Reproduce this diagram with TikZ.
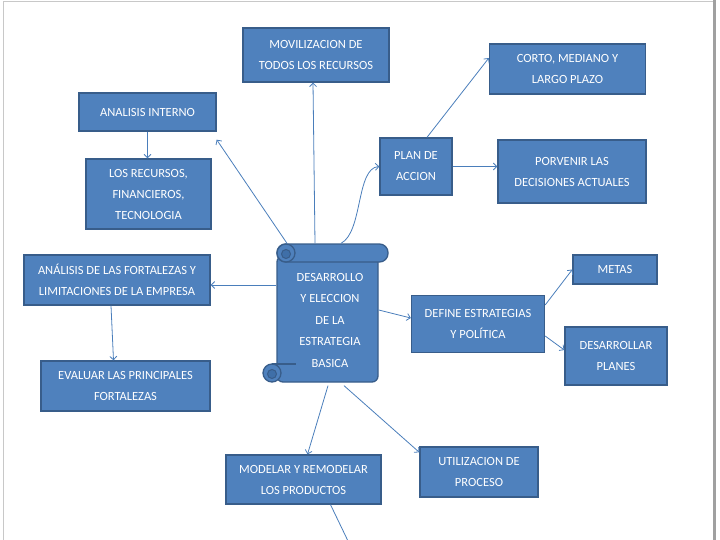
\documentclass[tikz,border=0pt]{standalone}
\usepackage{fontspec}
\setmainfont{Carlito}
\usetikzlibrary{arrows.meta,calc}
\definecolor{boxfill}{HTML}{4F81BD}
\definecolor{boxline}{HTML}{385D8A}
\definecolor{curlfill}{HTML}{3F6FA8}
\definecolor{arrowc}{HTML}{4A7EBB}
\definecolor{framec}{HTML}{C8C8C8}
\begin{document}
\begin{tikzpicture}[x=1pt,y=-1pt,
  box/.style={draw=boxline, line width=1.3pt, fill=boxfill, text=white, align=center, inner sep=0pt, font=\fontsize{12.5}{21}\selectfont},
  scrollpart/.style={draw=boxline, line width=1.3pt, fill=boxfill},
  curlpart/.style={draw=boxline, line width=1pt, fill=curlfill},
  conn/.style={draw=arrowc, line width=0.8pt, -{Straight Barb[length=3.5pt,width=7pt]}},
  plainconn/.style={draw=arrowc, line width=0.8pt}]
\useasboundingbox (0,0) rectangle (720,540);
% page frame
\draw[framec, line width=1pt] (3.5,540) -- (3.5,2) -- (714,2);
\draw[framec!80!black, line width=2.5pt] (714.5,0) -- (714.5,540);

% scroll shape
\filldraw[scrollpart, rounded corners=6pt] (277,256) rectangle (378,382);
\filldraw[scrollpart] (272,373) circle[radius=9pt];
\filldraw[scrollpart] (272,364) -- (296,364);
\filldraw[scrollpart, rounded corners=8.5pt] (277,244) rectangle (388,262);
\filldraw[scrollpart] (286,253) circle[radius=9pt];
\filldraw[curlpart] (286,254) circle[radius=4.5pt];
\filldraw[curlpart] (272,374) circle[radius=4.5pt];
\fill[boxfill] (279,265) rectangle (376,362);

% nodes
\node[box, draw=none, fill=none, minimum width=102pt, minimum height=150pt, font=\fontsize{12.5}{21.5}\selectfont] (scr) at (330,320)
  {DESARROLLO\\Y ELECCION\\DE LA\\ESTRATEGIA\\BASICA};
\node[box, minimum width=146pt, minimum height=54pt] (mov) at (316,55) {MOVILIZACION DE\\TODOS LOS RECURSOS};
\node[box, minimum width=137pt, minimum height=38pt] (ai) at (147.5,112) {ANALISIS INTERNO};
\node[box, minimum width=125pt, minimum height=70pt] (rec) at (148.5,194) {LOS RECURSOS,\\FINANCIEROS,\\TECNOLOGIA};
\node[box, minimum width=186pt, minimum height=50pt] (afl) at (117,280) {ANÁLISIS DE LAS FORTALEZAS Y\\LIMITACIONES DE LA EMPRESA};
\node[box, minimum width=169pt, minimum height=50pt] (eva) at (125.5,386) {EVALUAR LAS PRINCIPALES\\FORTALEZAS};
\node[box, minimum width=72pt, minimum height=57pt] (plan) at (416,166.5) {PLAN DE\\ACCION};
\node[box, minimum width=156pt, minimum height=50pt] (cor) at (567.5,69) {CORTO, MEDIANO Y\\LARGO PLAZO};
\node[box, minimum width=148pt, minimum height=63pt] (por) at (572,171.5) {PORVENIR LAS\\DECISIONES ACTUALES};
\node[box, minimum width=133pt, minimum height=57pt] (def) at (478,324) {DEFINE ESTRATEGIAS\\Y POLÍTICA};
\node[box, minimum width=84pt, minimum height=29pt] (met) at (615,269.5) {METAS};
\node[box, minimum width=102pt, minimum height=58pt] (des) at (616,356) {DESARROLLAR\\PLANES};
\node[box, minimum width=118pt, minimum height=50pt] (uti) at (479,472) {UTILIZACION DE\\PROCESO};
\node[box, minimum width=155pt, minimum height=49pt] (mod) at (303.5,479.5) {MODELAR Y REMODELAR\\LOS PRODUCTOS};
\coordinate (off) at (348,541);

% connectors (scr spans x 279..381, y 245..395)
\draw[conn] ($(scr.north)+(-15,-1)$) -- ($(mov.south)+(-3,0)$);
\draw[conn] ($(scr.north)+(-43,-1)$) -- ($(ai.south east)+(0,8)$);
\draw[conn] (ai.south) -- (ai.south |- rec.north);
\draw[conn] ($(scr.west)+(-2,-35)$) -- ($(afl.east)+(0,5)$);
\draw[conn] ($(afl.south)+(-6,0)$) -- ($(eva.north)+(-12,0)$);
\draw[conn] ($(scr.north)+(11,-1)$) .. controls (363,232) and (356,168) .. (plan.west);
\draw[conn] ($(plan.north)+(11,0)$) -- ($(cor.west)+(0,-11)$);
\draw[conn] (plan.east) -- (por.west |- plan.east);
\draw[conn] ($(scr.east)+(-3,-10)$) -- ($(def.west)+(0,-6)$);
\draw[conn] ($(def.east)+(0,-19)$) -- (met.west);
\draw[conn] ($(def.east)+(0,12)$) -- ($(des.west)+(0,-6)$);
\draw[conn] ($(scr.south)+(-2,-10)$) -- ($(mod.north)+(4,0)$);
\draw[conn] ($(scr.south)+(14,-10)$) -- ($(uti.north west)+(0,6)$);
\draw[plainconn] ($(mod.south)+(27,0)$) -- (off);
\end{tikzpicture}
\end{document}
